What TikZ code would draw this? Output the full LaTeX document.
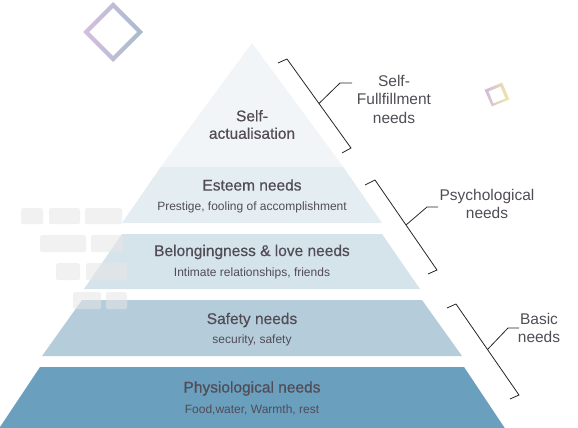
\documentclass[tikz,border=0pt]{standalone}
\usepackage{fontspec}
\setmainfont{Liberation Sans}
\newfontfamily\medfont[FakeBold=0.5]{Liberation Sans}
\usetikzlibrary{calc}
\definecolor{tA}{HTML}{F1F5F8}
\definecolor{tB}{HTML}{E4EDF2}
\definecolor{tC}{HTML}{D5E3EB}
\definecolor{tD}{HTML}{B5CDDA}
\definecolor{tE}{HTML}{6B9FBE}
\definecolor{txt}{HTML}{514C56}
\definecolor{blk}{HTML}{E6E6E6}
\definecolor{dpA}{HTML}{D6BEDF}
\definecolor{dpB}{HTML}{A6BCCC}
\definecolor{dyA}{HTML}{D2B8DE}
\definecolor{dyB}{HTML}{F3E8A6}
\begin{document}
\begin{tikzpicture}[x=1pt,y=-1pt,
  title/.style={font=\medfont\fontsize{15.5}{17.5}\selectfont, text=txt, align=center, inner sep=0pt},
  sub/.style={font=\fontsize{12}{13}\selectfont, text=txt, align=center, inner sep=0pt},
  lab/.style={font=\fontsize{15.5}{18.5}\selectfont, text=txt, align=center, inner sep=0pt},
  br/.style={draw=black!85, line width=0.8pt},
  gblock/.style={fill=blk, fill opacity=0.55, rounded corners=1.5pt}]
\useasboundingbox (0,0) rectangle (578,428);

% decorative diamonds
\shade[even odd rule, left color=dpA, right color=dpB]
  (83,32) -- (113,2) -- (143,32) -- (113,62) -- cycle
  (89,32) -- (113,8) -- (137,32) -- (113,56) -- cycle;
\shade[even odd rule, left color=dyA, right color=dyB]
  (484.6,89.8) -- (502.2,82.6) -- (509.4,99.4) -- (491.8,106.4) -- cycle
  (488.5,91.4) -- (500.6,86.5) -- (505.5,98.6) -- (493.4,103.5) -- cycle;

% pyramid tiers
\fill[tA] (252,43) -- (343,166.5) -- (161,166.5) -- cycle;
\fill[tB] (161,166.5) -- (343,166.5) -- (382,223) -- (122,223) -- cycle;
\fill[tC] (122,234) -- (382,234) -- (420,289) -- (84,289) -- cycle;
\fill[tD] (82,300) -- (422,300) -- (462,356) -- (42,356) -- cycle;
\fill[tE] (40,367) -- (464,367) -- (506,430) -- (-2,430) -- cycle;

% grey blocks
\foreach \xa/\xb/\ya/\yb in {21/43/208/224, 49/80/208/224, 85/122/208/224,
  40/86/235/252, 91/123/235/252,
  56/80/263/280, 86/127/263/280,
  73/101/292/309, 106/127/292/309}
  \fill[gblock] (\xa,\ya) rectangle (\xb,\yb);

% tier texts
\node[title] (sa) at (252,124.5) {Self-\\actualisation};
\node[title] (es) at (252,185) {Esteem needs};
\node[sub] (ess) at (252,207) {Prestige, fooling of accomplishment};
\node[title] (bl) at (252,252) {Belongingness \& love needs};
\node[sub] (bls) at (252,273) {Intimate relationships, friends};
\node[title] (sf) at (252,320) {Safety needs};
\node[sub] (sfs) at (252,340) {security, safety};
\node[title] (ph) at (252,388.5) {Physiological needs};
\node[sub] (phs) at (252,409.5) {Food,water, Warmth, rest};

% side labels
\node[lab] (l1) at (394,99) {Self-\\Fullfillment\\needs};
\node[lab] (l2) at (487,204) {Psychological\\needs};
\node[lab] (l3) at (539,328) {Basic\\needs};

% brackets
\coordinate (a1) at (278,63); \coordinate (b1) at (287,59);
\coordinate (c1) at (351,148); \coordinate (d1) at (342,153);
\coordinate (e1) at (340,83); \coordinate (f1) at (352,83);
\draw[br] (a1) -- (b1) -- (c1) -- (d1);
\draw[br] ($(b1)!0.5!(c1)$) -- (e1) -- (f1);

\coordinate (a2) at (365,185); \coordinate (b2) at (375,180);
\coordinate (c2) at (437,270); \coordinate (d2) at (428,274);
\coordinate (e2) at (427,207); \coordinate (f2) at (438,207);
\draw[br] (a2) -- (b2) -- (c2) -- (d2);
\draw[br] ($(b2)!0.5!(c2)$) -- (e2) -- (f2);

\coordinate (a3) at (447,308); \coordinate (b3) at (456,304);
\coordinate (c3) at (519,395); \coordinate (d3) at (510,399);
\coordinate (e3) at (508,328); \coordinate (f3) at (519,328);
\draw[br] (a3) -- (b3) -- (c3) -- (d3);
\draw[br] ($(b3)!0.5!(c3)$) -- (e3) -- (f3);
\end{tikzpicture}
\end{document}
